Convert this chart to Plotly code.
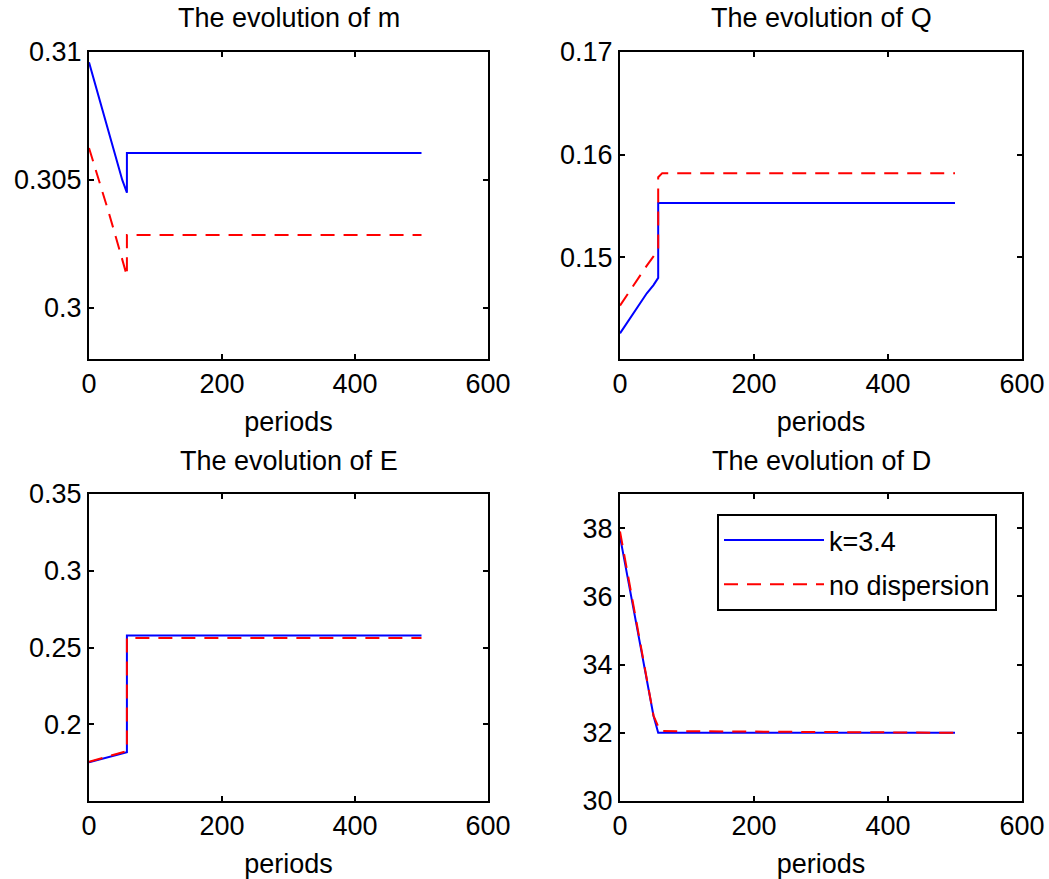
import plotly.graph_objects as go

# ---------------- data ----------------
periods_m_blue = [0, 10, 20, 30, 40, 50, 57, 57, 500]
m_blue = [0.3096, 0.3087, 0.3078, 0.3068, 0.3059, 0.3050, 0.3045, 0.30605, 0.30605]
periods_m_red = [0, 10, 20, 30, 40, 50, 57, 57, 500]
m_red = [0.30625, 0.3054, 0.3046, 0.3037, 0.3028, 0.3019, 0.30125, 0.30285, 0.30285]

periods_q_blue = [0, 10, 20, 30, 40, 50, 57, 57, 500]
q_blue = [0.1426, 0.1436, 0.1446, 0.1456, 0.1465, 0.1473, 0.1480, 0.1553, 0.1553]
periods_q_red = [0, 10, 20, 30, 40, 50, 57, 57, 63, 500]
q_red = [0.1453, 0.1463, 0.1473, 0.1483, 0.1492, 0.1501, 0.1507, 0.1578, 0.1582, 0.1582]

periods_e_blue = [0, 20, 40, 57, 57, 500]
e_blue = [0.1752, 0.1775, 0.1798, 0.1818, 0.2578, 0.2578]
periods_e_red = [0, 20, 40, 57, 57, 500]
e_red = [0.1755, 0.1778, 0.1802, 0.1825, 0.2562, 0.2562]

periods_d_blue = [0, 10, 20, 30, 40, 50, 57, 500]
d_blue = [37.75, 36.7, 35.6, 34.6, 33.5, 32.5, 32.0, 32.0]
periods_d_red = [0, 10, 20, 30, 40, 50, 60, 500]
d_red = [37.9, 36.8, 35.7, 34.6, 33.6, 32.5, 32.05, 32.0]

series_names = ["k=3.4", "no dispersion"]
titles = ["The evolution of m", "The evolution of Q", "The evolution of E", "The evolution of D"]
x_tickvals = [0, 200, 400, 600]
y_ticks_m = [0.3, 0.305, 0.31]
y_ticks_m_text = ["0.3", "0.305", "0.31"]
y_ticks_q = [0.15, 0.16, 0.17]
y_ticks_q_text = ["0.15", "0.16", "0.17"]
y_ticks_e = [0.2, 0.25, 0.3, 0.35]
y_ticks_e_text = ["0.2", "0.25", "0.3", "0.35"]
y_ticks_d = [30, 32, 34, 36, 38]

# ---------------- figure ----------------
W, H = 1049, 879
FONT = "Liberation Sans, Arial, Helvetica, sans-serif"
FS = 27
BLUE = "#0000FF"
RED = "#FF0000"
DASH = "14px,9px"

fig = go.Figure()

panels = [
    (periods_m_blue, m_blue, periods_m_red, m_red, "x", "y"),
    (periods_q_blue, q_blue, periods_q_red, q_red, "x2", "y2"),
    (periods_e_blue, e_blue, periods_e_red, e_red, "x3", "y3"),
    (periods_d_blue, d_blue, periods_d_red, d_red, "x4", "y4"),
]
for i, (xb, yb, xr, yr, xa, ya) in enumerate(panels):
    show = (i == 3)
    fig.add_trace(go.Scatter(x=xb, y=yb, mode="lines", name=series_names[0],
                             line=dict(color=BLUE, width=2), xaxis=xa, yaxis=ya,
                             showlegend=show, legendgroup="a"))
    fig.add_trace(go.Scatter(x=xr, y=yr, mode="lines", name=series_names[1],
                             line=dict(color=RED, width=2, dash=DASH), xaxis=xa, yaxis=ya,
                             showlegend=show, legendgroup="b"))

def px(v):
    return v / W

def py(v):
    return 1 - v / H

left_dom = [px(89), px(488)]
right_dom = [px(620), px(1022)]
top_dom = [py(359), py(52)]
bot_dom = [py(801), py(494)]

axis_common = dict(showline=True, linecolor="black", linewidth=2, mirror="ticks",
                   ticks="inside", ticklen=5, tickwidth=1.5, tickcolor="black",
                   showgrid=False, zeroline=False, automargin=False,
                   tickfont=dict(family=FONT, size=FS, color="black"))

def xaxis(dom, anchor):
    return dict(domain=dom, anchor=anchor, range=[0, 600], tickvals=x_tickvals,
                title=dict(text="periods", font=dict(family=FONT, size=FS, color="black"), standoff=14),
                **axis_common)

def yaxis(dom, anchor, rng, tv, tt=None):
    d = dict(domain=dom, anchor=anchor, range=rng, tickvals=tv, **axis_common)
    if tt is not None:
        d["ticktext"] = tt
    return d

fig.update_layout(
    width=W, height=H,
    margin=dict(l=0, r=0, t=0, b=0),
    paper_bgcolor="white", plot_bgcolor="white",
    font=dict(family=FONT, size=FS, color="black"),
    xaxis=xaxis(left_dom, "y"),
    yaxis=yaxis(top_dom, "x", [0.298, 0.31], y_ticks_m, y_ticks_m_text),
    xaxis2=xaxis(right_dom, "y2"),
    yaxis2=yaxis(top_dom, "x2", [0.1401, 0.17], y_ticks_q, y_ticks_q_text),
    xaxis3=xaxis(left_dom, "y3"),
    yaxis3=yaxis(bot_dom, "x3", [0.15, 0.35], y_ticks_e, y_ticks_e_text),
    xaxis4=xaxis(right_dom, "y4"),
    yaxis4=yaxis(bot_dom, "x4", [30, 39], y_ticks_d),
    legend=dict(x=px(717), y=py(514), xanchor="left", yanchor="top",
                bgcolor="white", bordercolor="black", borderwidth=2,
                font=dict(family=FONT, size=FS, color="black"),
                tracegroupgap=6, traceorder="grouped", itemwidth=100),
    showlegend=True,
)

title_pos = [((89 + 488) / 2, 18), ((620 + 1022) / 2, 18),
             ((89 + 488) / 2, 461), ((620 + 1022) / 2, 461)]
for t, (cx, cy) in zip(titles, title_pos):
    fig.add_annotation(text=t, x=px(cx), y=py(cy), xref="paper", yref="paper",
                       showarrow=False, xanchor="center", yanchor="middle",
                       font=dict(family=FONT, size=FS, color="black"))

fig.write_html("out.html")
